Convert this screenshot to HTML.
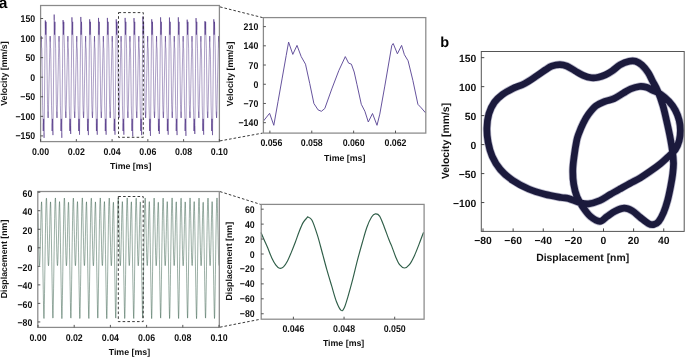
<!DOCTYPE html>
<html><head><meta charset="utf-8"><style>
html,body{margin:0;padding:0;background:#fff;}
body{width:685px;height:357px;overflow:hidden;}
svg{display:block;will-change:transform;}
</style></head><body>
<svg width="685" height="357" viewBox="0 0 685 357">
<rect width="685" height="357" fill="#fff"/>
<clipPath id="c1"><rect x="40.6" y="0" width="178.8" height="142"/></clipPath>
<polyline points="40.14,83.83 40.74,57.74 41.29,36.11 41.57,47.05 41.81,48.62 42.05,59.74 42.29,77.84 42.65,105.78 42.96,115.76 43.25,131.01 43.60,118.90 44.08,137.85 44.44,102.07 44.79,68.43 45.13,36.22 45.34,20.46 45.69,34.65 46.05,21.82 46.41,37.78 46.77,48.62 47.13,75.85 47.49,104.64 47.84,113.76 48.13,117.90 48.41,111.77 49.01,83.83 49.60,57.74 50.16,36.11 50.44,47.05 50.68,48.62 50.91,59.74 51.15,77.84 51.52,105.78 51.82,115.76 52.11,131.01 52.47,118.90 52.94,135.11 53.30,102.07 53.66,68.43 54.00,36.22 54.20,14.59 54.56,34.65 54.92,21.82 55.27,37.78 55.64,48.62 56.00,75.85 56.35,104.64 56.71,113.76 56.99,117.90 57.28,111.77 57.88,83.83 58.47,57.74 59.02,36.11 59.30,47.05 59.54,48.62 59.78,59.74 60.02,77.84 60.38,105.78 60.69,115.76 60.98,131.01 61.33,118.90 61.81,137.85 62.17,102.07 62.52,68.43 62.86,36.22 63.07,20.07 63.43,34.65 63.78,21.82 64.14,37.78 64.51,48.62 64.86,75.85 65.22,104.64 65.58,113.76 65.86,117.90 66.15,111.77 66.74,83.83 67.34,57.74 67.89,36.11 68.17,47.05 68.41,48.62 68.65,59.74 68.88,77.84 69.25,105.78 69.55,115.76 69.84,131.01 70.20,118.90 70.68,133.94 71.03,102.07 71.39,68.43 71.73,36.22 71.93,17.33 72.29,34.65 72.65,21.82 73.01,37.78 73.37,48.62 73.73,75.85 74.09,104.64 74.44,113.76 74.72,117.90 75.01,111.77 75.61,83.83 76.20,57.74 76.75,36.11 77.04,47.05 77.27,48.62 77.51,59.74 77.75,77.84 78.11,105.78 78.42,115.76 78.71,131.01 79.07,118.90 79.54,134.72 79.90,102.07 80.26,68.43 80.60,36.22 80.80,16.94 81.16,34.65 81.51,21.82 81.87,37.78 82.24,48.62 82.59,75.85 82.95,104.64 83.31,113.76 83.59,117.90 83.88,111.77 84.47,83.83 85.07,57.74 85.62,36.11 85.90,47.05 86.14,48.62 86.38,59.74 86.62,77.84 86.98,105.78 87.29,115.76 87.58,131.01 87.93,118.90 88.41,135.11 88.77,102.07 89.12,68.43 89.46,36.22 89.67,19.29 90.02,34.65 90.38,21.82 90.74,37.78 91.10,48.62 91.46,75.85 91.82,104.64 92.17,113.76 92.46,117.90 92.74,111.77 93.34,83.83 93.93,57.74 94.49,36.11 94.77,47.05 95.01,48.62 95.24,59.74 95.48,77.84 95.85,105.78 96.15,115.76 96.44,131.01 96.80,118.90 97.27,134.72 97.63,102.07 97.99,68.43 98.33,36.22 98.53,17.92 98.89,34.65 99.25,21.82 99.60,37.78 99.97,48.62 100.33,75.85 100.68,104.64 101.04,113.76 101.32,117.90 101.61,111.77 102.21,83.83 102.80,57.74 103.35,36.11 103.63,47.05 103.87,48.62 104.11,59.74 104.35,77.84 104.71,105.78 105.02,115.76 105.31,131.01 105.66,118.90 106.14,134.72 106.50,102.07 106.85,68.43 107.19,36.22 107.40,17.92 107.76,34.65 108.11,21.82 108.47,37.78 108.84,48.62 109.19,75.85 109.55,104.64 109.91,113.76 110.19,117.90 110.48,111.77 111.07,83.83 111.67,57.74 112.22,36.11 112.50,47.05 112.74,48.62 112.98,59.74 113.21,77.84 113.58,105.78 113.88,115.76 114.17,131.01 114.53,118.90 115.01,134.72 115.36,102.07 115.72,68.43 116.06,36.22 116.26,19.29 116.62,34.65 116.98,21.82 117.34,37.78 117.70,48.62 118.06,75.85 118.42,104.64 118.77,113.76 119.05,117.90 119.34,111.77 119.94,83.83 120.53,57.74 121.08,36.11 121.37,47.05 121.60,48.62 121.84,59.74 122.08,77.84 122.44,105.78 122.75,115.76 123.04,131.01 123.40,118.90 123.87,134.72 124.23,102.07 124.59,68.43 124.93,36.22 125.13,17.92 125.49,34.65 125.84,21.82 126.20,37.78 126.57,48.62 126.92,75.85 127.28,104.64 127.64,113.76 127.92,117.90 128.21,111.77 128.80,83.83 129.40,57.74 129.95,36.11 130.23,47.05 130.47,48.62 130.71,59.74 130.95,77.84 131.31,105.78 131.62,115.76 131.91,131.01 132.26,118.90 132.74,136.48 133.10,102.07 133.45,68.43 133.79,36.22 134.00,18.11 134.35,34.65 134.71,21.82 135.07,37.78 135.43,48.62 135.79,75.85 136.15,104.64 136.50,113.76 136.79,117.90 137.07,111.77 137.67,83.83 138.26,57.74 138.82,36.11 139.10,47.05 139.34,48.62 139.57,59.74 139.81,77.84 140.18,105.78 140.48,115.76 140.77,131.01 141.13,118.90 141.60,135.11 141.96,102.07 142.32,68.43 142.66,36.22 142.86,16.55 143.22,34.65 143.58,21.82 143.93,37.78 144.30,48.62 144.66,75.85 145.01,104.64 145.37,113.76 145.65,117.90 145.94,111.77 146.54,83.83 147.13,57.74 147.68,36.11 147.96,47.05 148.20,48.62 148.44,59.74 148.68,77.84 149.04,105.78 149.35,115.76 149.64,131.01 149.99,118.90 150.47,135.90 150.83,102.07 151.18,68.43 151.52,36.22 151.73,19.29 152.09,34.65 152.44,21.82 152.80,37.78 153.17,48.62 153.52,75.85 153.88,104.64 154.24,113.76 154.52,117.90 154.81,111.77 155.40,83.83 156.00,57.74 156.55,36.11 156.83,47.05 157.07,48.62 157.31,59.74 157.54,77.84 157.91,105.78 158.21,115.76 158.50,131.01 158.86,118.90 159.34,133.94 159.69,102.07 160.05,68.43 160.39,36.22 160.59,17.33 160.95,34.65 161.31,21.82 161.67,37.78 162.03,48.62 162.39,75.85 162.75,104.64 163.10,113.76 163.38,117.90 163.67,111.77 164.27,83.83 164.86,57.74 165.41,36.11 165.70,47.05 165.93,48.62 166.17,59.74 166.41,77.84 166.77,105.78 167.08,115.76 167.37,131.01 167.73,118.90 168.20,134.72 168.56,102.07 168.92,68.43 169.26,36.22 169.46,17.53 169.82,34.65 170.17,21.82 170.53,37.78 170.90,48.62 171.25,75.85 171.61,104.64 171.97,113.76 172.25,117.90 172.54,111.77 173.13,83.83 173.73,57.74 174.28,36.11 174.56,47.05 174.80,48.62 175.04,59.74 175.28,77.84 175.64,105.78 175.95,115.76 176.24,131.01 176.59,118.90 177.07,135.11 177.43,102.07 177.78,68.43 178.12,36.22 178.33,17.33 178.68,34.65 179.04,21.82 179.40,37.78 179.76,48.62 180.12,75.85 180.48,104.64 180.83,113.76 181.12,117.90 181.40,111.77 182.00,83.83 182.59,57.74 183.15,36.11 183.43,47.05 183.67,48.62 183.90,59.74 184.14,77.84 184.51,105.78 184.81,115.76 185.10,131.01 185.46,118.90 185.93,135.90 186.29,102.07 186.65,68.43 186.99,36.22 187.19,19.68 187.55,34.65 187.91,21.82 188.26,37.78 188.63,48.62 188.99,75.85 189.34,104.64 189.70,113.76 189.98,117.90 190.27,111.77 190.87,83.83 191.46,57.74 192.01,36.11 192.29,47.05 192.53,48.62 192.77,59.74 193.01,77.84 193.37,105.78 193.68,115.76 193.97,131.01 194.32,118.90 194.80,133.94 195.16,102.07 195.51,68.43 195.85,36.22 196.06,18.11 196.42,34.65 196.77,21.82 197.13,37.78 197.50,48.62 197.85,75.85 198.21,104.64 198.57,113.76 198.85,117.90 199.14,111.77 199.73,83.83 200.33,57.74 200.88,36.11 201.16,47.05 201.40,48.62 201.64,59.74 201.87,77.84 202.24,105.78 202.54,115.76 202.83,131.01 203.19,118.90 203.67,134.72 204.02,102.07 204.38,68.43 204.72,36.22 204.92,21.24 205.28,34.65 205.64,21.82 206.00,37.78 206.36,48.62 206.72,75.85 207.08,104.64 207.43,113.76 207.71,117.90 208.00,111.77 208.60,83.83 209.19,57.74 209.74,36.11 210.03,47.05 210.26,48.62 210.50,59.74 210.74,77.84 211.10,105.78 211.41,115.76 211.70,131.01 212.06,118.90 212.53,135.11 212.89,102.07 213.25,68.43 213.59,36.22 213.79,19.29 214.15,34.65 214.50,21.82 214.86,37.78 215.23,48.62 215.58,75.85 215.94,104.64 216.30,113.76 216.58,117.90 216.87,111.77 217.46,83.83 218.06,57.74 218.61,36.11 218.89,47.05 219.13,48.62 219.37,59.74 219.61,77.84" fill="none" stroke="#3c1c78" stroke-width="0.42" stroke-linejoin="round" clip-path="url(#c1)"/>
<path d="M40.14,83.83 L40.29,77.31M41.15,41.52 L41.29,36.11 L41.36,38.85 L41.43,41.58M43.10,123.39 L43.17,127.20 L43.25,131.01 L43.34,127.98 L43.42,124.95 L43.51,121.93 L43.60,118.90 L43.72,123.63M43.96,133.11 L44.08,137.85M45.23,28.34 L45.29,24.40 L45.34,20.46 L45.43,24.01 L45.52,27.56 L45.60,31.10 L45.69,34.65 L45.78,31.44 L45.87,28.23 L45.96,25.03 L46.05,21.82 L46.14,25.81 L46.23,29.80M47.76,111.48 L47.84,113.76 L47.91,114.80 L47.98,115.83 L48.05,116.86 L48.13,117.90 L48.20,116.36 L48.27,114.83 L48.34,113.30 L48.41,111.77M50.02,41.52 L50.16,36.11 L50.23,38.85 L50.30,41.58M51.97,123.39 L52.04,127.20 L52.11,131.01 L52.20,127.98 L52.29,124.95 L52.38,121.93 L52.47,118.90 L52.59,122.95M52.83,131.06 L52.94,135.11M54.15,20.00 L54.20,14.59 L54.29,19.61M54.47,29.63 L54.56,34.65 L54.65,31.44 L54.74,28.23 L54.83,25.03 L54.92,21.82 L55.01,25.81 L55.10,29.80M56.62,111.48 L56.71,113.76 L56.78,114.80 L56.85,115.83 L56.92,116.86 L56.99,117.90 L57.06,116.36 L57.14,114.83 L57.21,113.30 L57.28,111.77M58.88,41.52 L59.02,36.11 L59.09,38.85 L59.16,41.58M60.83,123.39 L60.91,127.20 L60.98,131.01 L61.07,127.98 L61.16,124.95 L61.25,121.93 L61.33,118.90 L61.45,123.63M61.69,133.11 L61.81,137.85M63.02,24.11 L63.07,20.07 L63.16,23.71 L63.25,27.36 L63.34,31.00 L63.43,34.65 L63.52,31.44 L63.60,28.23 L63.69,25.03 L63.78,21.82 L63.87,25.81 L63.96,29.80M65.49,111.48 L65.58,113.76 L65.65,114.80 L65.72,115.83 L65.79,116.86 L65.86,117.90 L65.93,116.36 L66.00,114.83 L66.07,113.30 L66.15,111.77M67.75,41.52 L67.89,36.11 L67.96,38.85 L68.03,41.58M69.70,123.39 L69.77,127.20 L69.84,131.01 L69.93,127.98 L70.02,124.95 L70.11,121.93 L70.20,118.90 L70.32,122.66 L70.44,126.42 L70.56,130.18 L70.68,133.94 L70.77,125.97M71.88,22.05 L71.93,17.33 L72.02,21.66M72.20,30.32 L72.29,34.65 L72.38,31.44 L72.47,28.23 L72.56,25.03 L72.65,21.82 L72.74,25.81 L72.83,29.80M74.35,111.48 L74.44,113.76 L74.51,114.80 L74.58,115.83 L74.65,116.86 L74.72,117.90 L74.80,116.36 L74.87,114.83 L74.94,113.30 L75.01,111.77M76.62,41.52 L76.75,36.11 L76.82,38.85 L76.89,41.58M78.57,123.39 L78.64,127.20 L78.71,131.01 L78.80,127.98 L78.89,124.95 L78.98,121.93 L79.07,118.90 L79.19,122.85 L79.30,126.81 L79.42,130.76 L79.54,134.72M80.75,21.76 L80.80,16.94 L80.89,21.37M81.07,30.22 L81.16,34.65 L81.25,31.44 L81.34,28.23 L81.43,25.03 L81.51,21.82 L81.60,25.81 L81.69,29.80M83.22,111.48 L83.31,113.76 L83.38,114.80 L83.45,115.83 L83.52,116.86 L83.59,117.90 L83.66,116.36 L83.73,114.83 L83.81,113.30 L83.88,111.77M85.48,41.52 L85.62,36.11 L85.69,38.85 L85.76,41.58M87.43,123.39 L87.50,127.20 L87.58,131.01 L87.67,127.98 L87.75,124.95 L87.84,121.93 L87.93,118.90 L88.05,122.95M88.29,131.06 L88.41,135.11M89.62,23.52 L89.67,19.29 L89.76,23.13 L89.85,26.97 L89.93,30.81 L90.02,34.65 L90.11,31.44 L90.20,28.23 L90.29,25.03 L90.38,21.82 L90.47,25.81 L90.56,29.80M92.09,111.48 L92.17,113.76 L92.24,114.80 L92.31,115.83 L92.38,116.86 L92.46,117.90 L92.53,116.36 L92.60,114.83 L92.67,113.30 L92.74,111.77M94.35,41.52 L94.49,36.11 L94.56,38.85 L94.63,41.58M96.30,123.39 L96.37,127.20 L96.44,131.01 L96.53,127.98 L96.62,124.95 L96.71,121.93 L96.80,118.90 L96.92,122.85 L97.04,126.81 L97.16,130.76 L97.27,134.72M98.48,22.49 L98.53,17.92 L98.62,22.10M98.80,30.47 L98.89,34.65 L98.98,31.44 L99.07,28.23 L99.16,25.03 L99.25,21.82 L99.34,25.81 L99.43,29.80M100.95,111.48 L101.04,113.76 L101.11,114.80 L101.18,115.83 L101.25,116.86 L101.32,117.90 L101.39,116.36 L101.47,114.83 L101.54,113.30 L101.61,111.77M103.21,41.52 L103.35,36.11 L103.42,38.85 L103.49,41.58M105.16,123.39 L105.24,127.20 L105.31,131.01 L105.40,127.98 L105.49,124.95 L105.58,121.93 L105.66,118.90 L105.78,122.85 L105.90,126.81 L106.02,130.76 L106.14,134.72M107.35,22.49 L107.40,17.92 L107.49,22.10M107.67,30.47 L107.76,34.65 L107.85,31.44 L107.93,28.23 L108.02,25.03 L108.11,21.82 L108.20,25.81 L108.29,29.80M109.82,111.48 L109.91,113.76 L109.98,114.80 L110.05,115.83 L110.12,116.86 L110.19,117.90 L110.26,116.36 L110.33,114.83 L110.40,113.30 L110.48,111.77M112.08,41.52 L112.22,36.11 L112.29,38.85 L112.36,41.58M114.03,123.39 L114.10,127.20 L114.17,131.01 L114.26,127.98 L114.35,124.95 L114.44,121.93 L114.53,118.90 L114.65,122.85 L114.77,126.81 L114.89,130.76 L115.01,134.72M116.21,23.52 L116.26,19.29 L116.35,23.13 L116.44,26.97 L116.53,30.81 L116.62,34.65 L116.71,31.44 L116.80,28.23 L116.89,25.03 L116.98,21.82 L117.07,25.81 L117.16,29.80M118.68,111.48 L118.77,113.76 L118.84,114.80 L118.91,115.83 L118.98,116.86 L119.05,117.90 L119.13,116.36 L119.20,114.83 L119.27,113.30 L119.34,111.77M120.95,41.52 L121.08,36.11 L121.15,38.85 L121.22,41.58M122.90,123.39 L122.97,127.20 L123.04,131.01 L123.13,127.98 L123.22,124.95 L123.31,121.93 L123.40,118.90 L123.52,122.85 L123.63,126.81 L123.75,130.76 L123.87,134.72M125.08,22.49 L125.13,17.92 L125.22,22.10M125.40,30.47 L125.49,34.65 L125.58,31.44 L125.67,28.23 L125.76,25.03 L125.84,21.82 L125.93,25.81 L126.02,29.80M127.55,111.48 L127.64,113.76 L127.71,114.80 L127.78,115.83 L127.85,116.86 L127.92,117.90 L127.99,116.36 L128.06,114.83 L128.14,113.30 L128.21,111.77M129.81,41.52 L129.95,36.11 L130.02,38.85 L130.09,41.58M131.76,123.39 L131.83,127.20 L131.91,131.01 L132.00,127.98 L132.08,124.95 L132.17,121.93 L132.26,118.90 L132.38,123.29M132.62,132.09 L132.74,136.48M133.95,22.64 L134.00,18.11 L134.09,22.25M134.26,30.52 L134.35,34.65 L134.44,31.44 L134.53,28.23 L134.62,25.03 L134.71,21.82 L134.80,25.81 L134.89,29.80M136.42,111.48 L136.50,113.76 L136.57,114.80 L136.64,115.83 L136.71,116.86 L136.79,117.90 L136.86,116.36 L136.93,114.83 L137.00,113.30 L137.07,111.77M138.68,41.52 L138.82,36.11 L138.89,38.85 L138.96,41.58M140.63,123.39 L140.70,127.20 L140.77,131.01 L140.86,127.98 L140.95,124.95 L141.04,121.93 L141.13,118.90 L141.25,122.95M141.49,131.06 L141.60,135.11M142.81,21.47 L142.86,16.55 L142.95,21.07M143.13,30.12 L143.22,34.65 L143.31,31.44 L143.40,28.23 L143.49,25.03 L143.58,21.82 L143.67,25.81 L143.76,29.80M145.28,111.48 L145.37,113.76 L145.44,114.80 L145.51,115.83 L145.58,116.86 L145.65,117.90 L145.72,116.36 L145.80,114.83 L145.87,113.30 L145.94,111.77M147.54,41.52 L147.68,36.11 L147.75,38.85 L147.82,41.58M149.49,123.39 L149.57,127.20 L149.64,131.01 L149.73,127.98 L149.82,124.95 L149.91,121.93 L149.99,118.90 L150.11,123.15M150.35,131.65 L150.47,135.90M151.68,23.52 L151.73,19.29 L151.82,23.13 L151.91,26.97 L152.00,30.81 L152.09,34.65 L152.18,31.44 L152.26,28.23 L152.35,25.03 L152.44,21.82 L152.53,25.81 L152.62,29.80M154.15,111.48 L154.24,113.76 L154.31,114.80 L154.38,115.83 L154.45,116.86 L154.52,117.90 L154.59,116.36 L154.66,114.83 L154.73,113.30 L154.81,111.77M156.41,41.52 L156.55,36.11 L156.62,38.85 L156.69,41.58M158.36,123.39 L158.43,127.20 L158.50,131.01 L158.59,127.98 L158.68,124.95 L158.77,121.93 L158.86,118.90 L158.98,122.66 L159.10,126.42 L159.22,130.18 L159.34,133.94 L159.43,125.97M160.54,22.05 L160.59,17.33 L160.68,21.66M160.86,30.32 L160.95,34.65 L161.04,31.44 L161.13,28.23 L161.22,25.03 L161.31,21.82 L161.40,25.81 L161.49,29.80M163.01,111.48 L163.10,113.76 L163.17,114.80 L163.24,115.83 L163.31,116.86 L163.38,117.90 L163.46,116.36 L163.53,114.83 L163.60,113.30 L163.67,111.77M165.28,41.52 L165.41,36.11 L165.48,38.85 L165.55,41.58M167.23,123.39 L167.30,127.20 L167.37,131.01 L167.46,127.98 L167.55,124.95 L167.64,121.93 L167.73,118.90 L167.85,122.85 L167.96,126.81 L168.08,130.76 L168.20,134.72M169.41,22.20 L169.46,17.53 L169.55,21.81M169.73,30.37 L169.82,34.65 L169.91,31.44 L170.00,28.23 L170.09,25.03 L170.17,21.82 L170.26,25.81 L170.35,29.80M171.88,111.48 L171.97,113.76 L172.04,114.80 L172.11,115.83 L172.18,116.86 L172.25,117.90 L172.32,116.36 L172.39,114.83 L172.47,113.30 L172.54,111.77M174.14,41.52 L174.28,36.11 L174.35,38.85 L174.42,41.58M176.09,123.39 L176.16,127.20 L176.24,131.01 L176.33,127.98 L176.41,124.95 L176.50,121.93 L176.59,118.90 L176.71,122.95M176.95,131.06 L177.07,135.11M178.28,22.05 L178.33,17.33 L178.42,21.66M178.59,30.32 L178.68,34.65 L178.77,31.44 L178.86,28.23 L178.95,25.03 L179.04,21.82 L179.13,25.81 L179.22,29.80M180.75,111.48 L180.83,113.76 L180.90,114.80 L180.97,115.83 L181.04,116.86 L181.12,117.90 L181.19,116.36 L181.26,114.83 L181.33,113.30 L181.40,111.77M183.01,41.52 L183.15,36.11 L183.22,38.85 L183.29,41.58M184.96,123.39 L185.03,127.20 L185.10,131.01 L185.19,127.98 L185.28,124.95 L185.37,121.93 L185.46,118.90 L185.58,123.15M185.82,131.65 L185.93,135.90M187.14,23.81 L187.19,19.68 L187.28,23.42 L187.37,27.16 L187.46,30.91 L187.55,34.65 L187.64,31.44 L187.73,28.23 L187.82,25.03 L187.91,21.82 L188.00,25.81 L188.09,29.80M189.61,111.48 L189.70,113.76 L189.77,114.80 L189.84,115.83 L189.91,116.86 L189.98,117.90 L190.05,116.36 L190.13,114.83 L190.20,113.30 L190.27,111.77M191.87,41.52 L192.01,36.11 L192.08,38.85 L192.15,41.58M193.82,123.39 L193.90,127.20 L193.97,131.01 L194.06,127.98 L194.15,124.95 L194.24,121.93 L194.32,118.90 L194.44,122.66 L194.56,126.42 L194.68,130.18 L194.80,133.94 L194.89,125.97M196.01,22.64 L196.06,18.11 L196.15,22.25M196.33,30.52 L196.42,34.65 L196.51,31.44 L196.59,28.23 L196.68,25.03 L196.77,21.82 L196.86,25.81 L196.95,29.80M198.48,111.48 L198.57,113.76 L198.64,114.80 L198.71,115.83 L198.78,116.86 L198.85,117.90 L198.92,116.36 L198.99,114.83 L199.06,113.30 L199.14,111.77M200.74,41.52 L200.88,36.11 L200.95,38.85 L201.02,41.58M202.69,123.39 L202.76,127.20 L202.83,131.01 L202.92,127.98 L203.01,124.95 L203.10,121.93 L203.19,118.90 L203.31,122.85 L203.43,126.81 L203.55,130.76 L203.67,134.72M204.82,28.73 L204.87,24.99 L204.92,21.24 L205.01,24.60 L205.10,27.95 L205.19,31.30 L205.28,34.65 L205.37,31.44 L205.46,28.23 L205.55,25.03 L205.64,21.82 L205.73,25.81 L205.82,29.80M207.34,111.48 L207.43,113.76 L207.50,114.80 L207.57,115.83 L207.64,116.86 L207.71,117.90 L207.79,116.36 L207.86,114.83 L207.93,113.30 L208.00,111.77M209.61,41.52 L209.74,36.11 L209.81,38.85 L209.88,41.58M211.56,123.39 L211.63,127.20 L211.70,131.01 L211.79,127.98 L211.88,124.95 L211.97,121.93 L212.06,118.90 L212.18,122.95M212.41,131.06 L212.53,135.11M213.74,23.52 L213.79,19.29 L213.88,23.13 L213.97,26.97 L214.06,30.81 L214.15,34.65 L214.24,31.44 L214.33,28.23 L214.42,25.03 L214.50,21.82 L214.59,25.81 L214.68,29.80M216.21,111.48 L216.30,113.76 L216.37,114.80 L216.44,115.83 L216.51,116.86 L216.58,117.90 L216.65,116.36 L216.72,114.83 L216.80,113.30 L216.87,111.77M218.47,41.52 L218.61,36.11 L218.68,38.85 L218.75,41.58" fill="none" stroke="#3c1c78" stroke-width="0.3" stroke-opacity="0.5" clip-path="url(#c1)"/>
<rect x="40.60" y="5.50" width="178.80" height="136.10" fill="none" stroke="#8a8a8a" stroke-width="1.25"/>
<line x1="40.60" y1="135.90" x2="43.10" y2="135.90" stroke="#444" stroke-width="0.9"/>
<text x="35.20" y="139.44" font-size="9.856000000000002" text-anchor="end" transform="translate(35.20 139.44) scale(0.8929 1) translate(-35.20 -139.44)" font-family="Liberation Sans" font-weight="bold" text-rendering="geometricPrecision" fill="#111">−150</text>
<line x1="40.60" y1="116.33" x2="43.10" y2="116.33" stroke="#444" stroke-width="0.9"/>
<text x="35.20" y="119.88" font-size="9.856000000000002" text-anchor="end" transform="translate(35.20 119.88) scale(0.8929 1) translate(-35.20 -119.88)" font-family="Liberation Sans" font-weight="bold" text-rendering="geometricPrecision" fill="#111">−100</text>
<line x1="40.60" y1="96.77" x2="43.10" y2="96.77" stroke="#444" stroke-width="0.9"/>
<text x="35.20" y="100.31" font-size="9.856000000000002" text-anchor="end" transform="translate(35.20 100.31) scale(0.8929 1) translate(-35.20 -100.31)" font-family="Liberation Sans" font-weight="bold" text-rendering="geometricPrecision" fill="#111">−50</text>
<line x1="40.60" y1="77.20" x2="43.10" y2="77.20" stroke="#444" stroke-width="0.9"/>
<text x="35.20" y="80.75" font-size="9.856000000000002" text-anchor="end" transform="translate(35.20 80.75) scale(0.8929 1) translate(-35.20 -80.75)" font-family="Liberation Sans" font-weight="bold" text-rendering="geometricPrecision" fill="#111">0</text>
<line x1="40.60" y1="57.64" x2="43.10" y2="57.64" stroke="#444" stroke-width="0.9"/>
<text x="35.20" y="61.18" font-size="9.856000000000002" text-anchor="end" transform="translate(35.20 61.18) scale(0.8929 1) translate(-35.20 -61.18)" font-family="Liberation Sans" font-weight="bold" text-rendering="geometricPrecision" fill="#111">50</text>
<line x1="40.60" y1="38.07" x2="43.10" y2="38.07" stroke="#444" stroke-width="0.9"/>
<text x="35.20" y="41.62" font-size="9.856000000000002" text-anchor="end" transform="translate(35.20 41.62) scale(0.8929 1) translate(-35.20 -41.62)" font-family="Liberation Sans" font-weight="bold" text-rendering="geometricPrecision" fill="#111">100</text>
<line x1="40.60" y1="18.51" x2="43.10" y2="18.51" stroke="#444" stroke-width="0.9"/>
<text x="35.20" y="22.05" font-size="9.856000000000002" text-anchor="end" transform="translate(35.20 22.05) scale(0.8929 1) translate(-35.20 -22.05)" font-family="Liberation Sans" font-weight="bold" text-rendering="geometricPrecision" fill="#111">150</text>
<line x1="40.60" y1="141.60" x2="40.60" y2="139.10" stroke="#444" stroke-width="0.9"/>
<text x="40.60" y="154.60" font-size="9.856000000000002" text-anchor="middle" transform="translate(40.60 154.60) scale(0.8929 1) translate(-40.60 -154.60)" font-family="Liberation Sans" font-weight="bold" text-rendering="geometricPrecision" fill="#111">0.00</text>
<line x1="76.35" y1="141.60" x2="76.35" y2="139.10" stroke="#444" stroke-width="0.9"/>
<text x="76.35" y="154.60" font-size="9.856000000000002" text-anchor="middle" transform="translate(76.35 154.60) scale(0.8929 1) translate(-76.35 -154.60)" font-family="Liberation Sans" font-weight="bold" text-rendering="geometricPrecision" fill="#111">0.02</text>
<line x1="112.10" y1="141.60" x2="112.10" y2="139.10" stroke="#444" stroke-width="0.9"/>
<text x="112.10" y="154.60" font-size="9.856000000000002" text-anchor="middle" transform="translate(112.10 154.60) scale(0.8929 1) translate(-112.10 -154.60)" font-family="Liberation Sans" font-weight="bold" text-rendering="geometricPrecision" fill="#111">0.04</text>
<line x1="147.85" y1="141.60" x2="147.85" y2="139.10" stroke="#444" stroke-width="0.9"/>
<text x="147.85" y="154.60" font-size="9.856000000000002" text-anchor="middle" transform="translate(147.85 154.60) scale(0.8929 1) translate(-147.85 -154.60)" font-family="Liberation Sans" font-weight="bold" text-rendering="geometricPrecision" fill="#111">0.06</text>
<line x1="183.60" y1="141.60" x2="183.60" y2="139.10" stroke="#444" stroke-width="0.9"/>
<text x="183.60" y="154.60" font-size="9.856000000000002" text-anchor="middle" transform="translate(183.60 154.60) scale(0.8929 1) translate(-183.60 -154.60)" font-family="Liberation Sans" font-weight="bold" text-rendering="geometricPrecision" fill="#111">0.08</text>
<line x1="219.35" y1="141.60" x2="219.35" y2="139.10" stroke="#444" stroke-width="0.9"/>
<text x="219.35" y="154.60" font-size="9.856000000000002" text-anchor="middle" transform="translate(219.35 154.60) scale(0.8929 1) translate(-219.35 -154.60)" font-family="Liberation Sans" font-weight="bold" text-rendering="geometricPrecision" fill="#111">0.10</text>
<text x="130.70" y="168.80" font-size="8.8" text-anchor="middle" font-family="Liberation Sans" font-weight="bold" text-rendering="geometricPrecision" fill="#111">Time [ms]</text>
<text x="7.40" y="73.60" font-size="8.8" text-anchor="middle" transform="rotate(-90 7.40 73.60)" font-family="Liberation Sans" font-weight="bold" text-rendering="geometricPrecision" fill="#111">Velocity [mm/s]</text>
<rect x="118.5" y="12.6" width="24.8" height="124.7" fill="none" stroke="#222" stroke-width="0.9" stroke-dasharray="2.6,2.2"/>
<polyline points="263.40,121.10 269.60,113.30 273.80,125.30 278.00,101.70 282.20,78.10 286.20,55.50 288.60,42.10 292.80,54.40 297.00,45.40 301.20,56.60 305.50,64.20 309.70,83.30 313.90,103.50 318.10,109.90 321.40,111.30 324.80,108.50 331.80,88.90 338.80,70.60 345.30,56.60 348.60,63.10 351.40,64.20 354.20,72.00 357.00,84.70 361.30,104.30 364.90,111.30 368.30,122.00 372.50,113.50 377.00,125.30 379.80,114.10 384.80,86.10 391.80,45.40 393.20,43.50 397.40,53.80 401.60,45.40 404.40,54.70 408.10,60.80 412.90,80.50 417.90,104.30 421.30,107.90 424.90,112.10 425.80,113.00" fill="none" stroke="#5e4a98" stroke-width="0.95" stroke-linejoin="round" />
<rect x="263.40" y="17.60" width="162.40" height="115.50" fill="none" stroke="#8a8a8a" stroke-width="1.25"/>
<line x1="263.40" y1="122.68" x2="265.90" y2="122.68" stroke="#444" stroke-width="0.9"/>
<text x="258.30" y="126.23" font-size="9.856000000000002" text-anchor="end" transform="translate(258.30 126.23) scale(0.8929 1) translate(-258.30 -126.23)" font-family="Liberation Sans" font-weight="bold" text-rendering="geometricPrecision" fill="#111">−140</text>
<line x1="263.40" y1="103.47" x2="265.90" y2="103.47" stroke="#444" stroke-width="0.9"/>
<text x="258.30" y="107.01" font-size="9.856000000000002" text-anchor="end" transform="translate(258.30 107.01) scale(0.8929 1) translate(-258.30 -107.01)" font-family="Liberation Sans" font-weight="bold" text-rendering="geometricPrecision" fill="#111">−70</text>
<line x1="263.40" y1="84.25" x2="265.90" y2="84.25" stroke="#444" stroke-width="0.9"/>
<text x="258.30" y="87.80" font-size="9.856000000000002" text-anchor="end" transform="translate(258.30 87.80) scale(0.8929 1) translate(-258.30 -87.80)" font-family="Liberation Sans" font-weight="bold" text-rendering="geometricPrecision" fill="#111">0</text>
<line x1="263.40" y1="65.03" x2="265.90" y2="65.03" stroke="#444" stroke-width="0.9"/>
<text x="258.30" y="68.58" font-size="9.856000000000002" text-anchor="end" transform="translate(258.30 68.58) scale(0.8929 1) translate(-258.30 -68.58)" font-family="Liberation Sans" font-weight="bold" text-rendering="geometricPrecision" fill="#111">70</text>
<line x1="263.40" y1="45.82" x2="265.90" y2="45.82" stroke="#444" stroke-width="0.9"/>
<text x="258.30" y="49.37" font-size="9.856000000000002" text-anchor="end" transform="translate(258.30 49.37) scale(0.8929 1) translate(-258.30 -49.37)" font-family="Liberation Sans" font-weight="bold" text-rendering="geometricPrecision" fill="#111">140</text>
<line x1="263.40" y1="26.60" x2="265.90" y2="26.60" stroke="#444" stroke-width="0.9"/>
<text x="258.30" y="30.15" font-size="9.856000000000002" text-anchor="end" transform="translate(258.30 30.15) scale(0.8929 1) translate(-258.30 -30.15)" font-family="Liberation Sans" font-weight="bold" text-rendering="geometricPrecision" fill="#111">210</text>
<line x1="269.90" y1="133.10" x2="269.90" y2="130.60" stroke="#444" stroke-width="0.9"/>
<text x="271.40" y="146.00" font-size="9.856000000000002" text-anchor="middle" transform="translate(271.40 146.00) scale(0.8929 1) translate(-271.40 -146.00)" font-family="Liberation Sans" font-weight="bold" text-rendering="geometricPrecision" fill="#111">0.056</text>
<line x1="311.77" y1="133.10" x2="311.77" y2="130.60" stroke="#444" stroke-width="0.9"/>
<text x="311.77" y="146.00" font-size="9.856000000000002" text-anchor="middle" transform="translate(311.77 146.00) scale(0.8929 1) translate(-311.77 -146.00)" font-family="Liberation Sans" font-weight="bold" text-rendering="geometricPrecision" fill="#111">0.058</text>
<line x1="353.64" y1="133.10" x2="353.64" y2="130.60" stroke="#444" stroke-width="0.9"/>
<text x="353.64" y="146.00" font-size="9.856000000000002" text-anchor="middle" transform="translate(353.64 146.00) scale(0.8929 1) translate(-353.64 -146.00)" font-family="Liberation Sans" font-weight="bold" text-rendering="geometricPrecision" fill="#111">0.060</text>
<line x1="395.51" y1="133.10" x2="395.51" y2="130.60" stroke="#444" stroke-width="0.9"/>
<text x="395.51" y="146.00" font-size="9.856000000000002" text-anchor="middle" transform="translate(395.51 146.00) scale(0.8929 1) translate(-395.51 -146.00)" font-family="Liberation Sans" font-weight="bold" text-rendering="geometricPrecision" fill="#111">0.062</text>
<text x="344.75" y="161.40" font-size="8.8" text-anchor="middle" font-family="Liberation Sans" font-weight="bold" text-rendering="geometricPrecision" fill="#111">Time [ms]</text>
<text x="232.90" y="73.90" font-size="8.8" text-anchor="middle" transform="rotate(-90 232.90 73.90)" font-family="Liberation Sans" font-weight="bold" text-rendering="geometricPrecision" fill="#111">Velocity [mm/s]</text>
<line x1="220.00" y1="6.90" x2="262.60" y2="17.60" stroke="#222" stroke-width="0.9" stroke-dasharray="2.6,2.0"/>
<line x1="220.00" y1="140.90" x2="262.60" y2="133.10" stroke="#222" stroke-width="0.9" stroke-dasharray="2.6,2.0"/>
<polyline points="38.00,213.42 38.18,222.15 38.36,230.22 38.54,237.48 38.72,245.88 38.91,254.07 39.09,260.23 39.27,264.04 39.45,265.64 39.63,265.32 39.81,262.85 39.99,258.16 40.17,251.66 40.35,244.21 40.53,236.45 40.72,227.99 40.90,219.34 41.08,211.75 41.26,206.42 41.44,202.99 41.62,201.82 41.80,205.77 41.98,213.10 42.16,222.66 42.34,233.55 42.52,245.14 42.71,257.00 42.89,268.45 43.07,279.10 43.25,289.65 43.43,300.34 43.61,309.92 43.79,316.68 43.97,318.51 44.15,314.11 44.34,304.46 44.52,293.37 44.70,281.82 44.88,269.19 45.06,256.39 45.24,244.68 45.42,233.63 45.60,222.68 45.78,212.95 45.96,205.53 46.15,200.64 46.33,198.25 46.51,198.24 46.69,201.46 46.87,208.32 47.05,216.94 47.23,225.51 47.41,233.11 47.59,240.70 47.77,249.32 47.95,256.81 48.14,262.04 48.32,264.93 48.50,265.75 48.68,264.61 48.86,261.22 49.04,255.74 49.22,248.72 49.40,241.16 49.58,233.16 49.77,224.48 49.95,216.11 50.13,209.30 50.31,204.92 50.49,201.88 50.67,202.88 50.85,208.37 51.03,216.71 51.21,226.90 51.39,238.13 51.58,249.88 51.76,261.67 51.94,272.78 52.12,283.28 52.30,293.97 52.48,304.39 52.66,313.08 52.84,318.12 53.02,317.51 53.20,310.67 53.39,300.03 53.57,288.85 53.75,276.89 53.93,264.00 54.11,251.56 54.29,240.24 54.47,229.20 54.65,218.56 54.83,209.68 55.01,203.26 55.20,199.40 55.38,197.94 55.56,199.07 55.74,203.85 55.92,211.68 56.10,220.43 56.28,228.70 56.46,235.98 56.64,244.13 56.82,252.56 57.01,259.18 57.19,263.46 57.37,265.48 57.55,265.54 57.73,263.53 57.91,259.26 58.09,253.07 58.27,245.72 58.45,238.05 58.63,229.74 58.81,221.02 59.00,213.13 59.18,207.28 59.36,203.61 59.54,201.60 59.72,204.65 59.90,211.42 60.08,220.62 60.26,231.30 60.44,242.79 60.62,254.64 60.81,266.22 60.99,277.01 61.17,287.51 61.35,298.25 61.53,308.16 61.71,315.66 61.89,318.63 62.07,315.50 62.25,306.62 62.44,295.60 62.62,284.21 62.80,271.78 62.98,258.89 63.16,246.93 63.34,235.84 63.52,224.82 63.70,214.73 63.88,206.81 64.06,201.41 64.25,198.54 64.43,198.03 64.61,200.50 64.79,206.73 64.97,215.18 65.15,223.85 65.33,231.68 65.51,239.05 65.69,247.61 65.87,255.48 66.06,261.18 66.24,264.52 66.42,265.73 66.60,265.01 66.78,262.08 66.96,256.99 67.14,250.20 67.32,242.69 67.50,234.83 67.68,226.24 67.87,217.70 68.05,210.48 68.23,205.64 68.41,202.38 68.59,202.25 68.77,207.01 68.95,214.86 69.13,224.76 69.31,235.82 69.49,247.50 69.68,259.35 69.86,270.63 70.04,281.19 70.22,291.81 70.40,302.39 70.58,311.56 70.76,317.51 70.94,318.14 71.12,312.49 71.30,302.25 71.49,291.12 71.67,279.38 71.85,266.59 72.03,253.95 72.21,242.45 72.39,231.41 72.57,220.59 72.75,211.27 72.93,204.35 73.11,199.97 73.30,198.05 73.48,198.59 73.66,202.58 73.84,209.97 74.02,218.69 74.20,227.13 74.38,234.53 74.56,242.40 74.74,250.98 74.92,258.04 75.11,262.80 75.29,265.24 75.47,265.68 75.65,264.12 75.83,260.28 76.01,254.43 76.19,247.22 76.37,239.62 76.55,231.47 76.73,222.74 76.92,214.58 77.10,208.24 77.28,204.25 77.46,201.62 77.64,203.68 77.82,209.85 78.00,218.63 78.18,229.08 78.36,240.45 78.54,252.26 78.72,263.96 78.91,274.90 79.09,285.39 79.27,296.12 79.45,306.32 79.63,314.45 79.81,318.50 79.99,316.63 80.17,308.71 80.35,297.82 80.53,286.55 80.72,274.35 80.90,261.43 81.08,249.22 81.26,238.04 81.44,227.00 81.62,216.60 81.80,208.20 81.98,202.29 82.16,198.92 82.34,197.93 82.53,199.71 82.71,205.24 82.89,213.42 83.07,222.15 83.25,230.22 83.43,237.48 83.61,245.88 83.79,254.07 83.97,260.23 84.16,264.04 84.34,265.64 84.52,265.32 84.70,262.85 84.88,258.16 85.06,251.66 85.24,244.21 85.42,236.45 85.60,227.99 85.78,219.34 85.97,211.75 86.15,206.42 86.33,202.99 86.51,201.82 86.69,205.77 86.87,213.10 87.05,222.66 87.23,233.55 87.41,245.14 87.59,257.00 87.78,268.45 87.96,279.10 88.14,289.65 88.32,300.34 88.50,309.92 88.68,316.68 88.86,318.51 89.04,314.11 89.22,304.46 89.40,293.37 89.59,281.82 89.77,269.19 89.95,256.39 90.13,244.68 90.31,233.63 90.49,222.68 90.67,212.95 90.85,205.53 91.03,200.64 91.21,198.25 91.40,198.24 91.58,201.46 91.76,208.32 91.94,216.94 92.12,225.51 92.30,233.11 92.48,240.70 92.66,249.32 92.84,256.81 93.02,262.04 93.21,264.93 93.39,265.75 93.57,264.61 93.75,261.22 93.93,255.74 94.11,248.72 94.29,241.16 94.47,233.16 94.65,224.48 94.83,216.11 95.02,209.30 95.20,204.92 95.38,201.88 95.56,202.88 95.74,208.37 95.92,216.71 96.10,226.90 96.28,238.13 96.46,249.88 96.64,261.67 96.83,272.78 97.01,283.28 97.19,293.97 97.37,304.39 97.55,313.08 97.73,318.12 97.91,317.51 98.09,310.67 98.27,300.03 98.45,288.85 98.64,276.89 98.82,264.00 99.00,251.56 99.18,240.24 99.36,229.20 99.54,218.56 99.72,209.68 99.90,203.26 100.08,199.40 100.26,197.94 100.45,199.07 100.63,203.85 100.81,211.68 100.99,220.43 101.17,228.70 101.35,235.98 101.53,244.13 101.71,252.56 101.89,259.18 102.07,263.46 102.26,265.48 102.44,265.54 102.62,263.53 102.80,259.26 102.98,253.07 103.16,245.72 103.34,238.05 103.52,229.74 103.70,221.02 103.88,213.13 104.07,207.28 104.25,203.61 104.43,201.60 104.61,204.65 104.79,211.42 104.97,220.62 105.15,231.30 105.33,242.79 105.51,254.64 105.69,266.22 105.88,277.01 106.06,287.51 106.24,298.25 106.42,308.16 106.60,315.66 106.78,318.63 106.96,315.50 107.14,306.62 107.32,295.60 107.50,284.21 107.69,271.78 107.87,258.89 108.05,246.93 108.23,235.84 108.41,224.82 108.59,214.73 108.77,206.81 108.95,201.41 109.13,198.54 109.31,198.03 109.50,200.50 109.68,206.73 109.86,215.18 110.04,223.85 110.22,231.68 110.40,239.05 110.58,247.61 110.76,255.48 110.94,261.18 111.12,264.52 111.31,265.73 111.49,265.01 111.67,262.08 111.85,256.99 112.03,250.20 112.21,242.69 112.39,234.83 112.57,226.24 112.75,217.70 112.93,210.48 113.12,205.64 113.30,202.38 113.48,202.25 113.66,207.01 113.84,214.86 114.02,224.76 114.20,235.82 114.38,247.50 114.56,259.35 114.74,270.63 114.93,281.19 115.11,291.81 115.29,302.39 115.47,311.56 115.65,317.51 115.83,318.14 116.01,312.49 116.19,302.25 116.37,291.12 116.55,279.38 116.74,266.59 116.92,253.95 117.10,242.45 117.28,231.41 117.46,220.59 117.64,211.27 117.82,204.35 118.00,199.97 118.18,198.05 118.36,198.59 118.55,202.58 118.73,209.97 118.91,218.69 119.09,227.13 119.27,234.53 119.45,242.40 119.63,250.98 119.81,258.04 119.99,262.80 120.17,265.24 120.36,265.68 120.54,264.12 120.72,260.28 120.90,254.43 121.08,247.22 121.26,239.62 121.44,231.47 121.62,222.74 121.80,214.58 121.98,208.24 122.17,204.25 122.35,201.62 122.53,203.68 122.71,209.85 122.89,218.63 123.07,229.08 123.25,240.45 123.43,252.26 123.61,263.96 123.79,274.90 123.97,285.39 124.16,296.12 124.34,306.32 124.52,314.45 124.70,318.50 124.88,316.63 125.06,308.71 125.24,297.82 125.42,286.55 125.60,274.35 125.78,261.43 125.97,249.22 126.15,238.04 126.33,227.00 126.51,216.60 126.69,208.20 126.87,202.29 127.05,198.92 127.23,197.93 127.41,199.71 127.59,205.24 127.78,213.42 127.96,222.15 128.14,230.22 128.32,237.48 128.50,245.88 128.68,254.07 128.86,260.23 129.04,264.04 129.22,265.64 129.41,265.32 129.59,262.85 129.77,258.16 129.95,251.66 130.13,244.21 130.31,236.45 130.49,227.99 130.67,219.34 130.85,211.75 131.03,206.42 131.22,202.99 131.40,201.82 131.58,205.77 131.76,213.10 131.94,222.66 132.12,233.55 132.30,245.14 132.48,257.00 132.66,268.45 132.84,279.10 133.03,289.65 133.21,300.34 133.39,309.92 133.57,316.68 133.75,318.51 133.93,314.11 134.11,304.46 134.29,293.37 134.47,281.82 134.65,269.19 134.84,256.39 135.02,244.68 135.20,233.63 135.38,222.68 135.56,212.95 135.74,205.53 135.92,200.64 136.10,198.25 136.28,198.24 136.46,201.46 136.64,208.32 136.83,216.94 137.01,225.51 137.19,233.11 137.37,240.70 137.55,249.32 137.73,256.81 137.91,262.04 138.09,264.93 138.27,265.75 138.45,264.61 138.64,261.22 138.82,255.74 139.00,248.72 139.18,241.16 139.36,233.16 139.54,224.48 139.72,216.11 139.90,209.30 140.08,204.92 140.26,201.88 140.45,202.88 140.63,208.37 140.81,216.71 140.99,226.90 141.17,238.13 141.35,249.88 141.53,261.67 141.71,272.78 141.89,283.28 142.07,293.97 142.26,304.39 142.44,313.08 142.62,318.12 142.80,317.51 142.98,310.67 143.16,300.03 143.34,288.85 143.52,276.89 143.70,264.00 143.88,251.56 144.07,240.24 144.25,229.20 144.43,218.56 144.61,209.68 144.79,203.26 144.97,199.40 145.15,197.94 145.33,199.07 145.51,203.85 145.69,211.68 145.88,220.43 146.06,228.70 146.24,235.98 146.42,244.13 146.60,252.56 146.78,259.18 146.96,263.46 147.14,265.48 147.32,265.54 147.50,263.53 147.69,259.26 147.87,253.07 148.05,245.72 148.23,238.05 148.41,229.74 148.59,221.02 148.77,213.13 148.95,207.28 149.13,203.61 149.31,201.60 149.50,204.65 149.68,211.42 149.86,220.62 150.04,231.30 150.22,242.79 150.40,254.64 150.58,266.22 150.76,277.01 150.94,287.51 151.12,298.25 151.31,308.16 151.49,315.66 151.67,318.63 151.85,315.50 152.03,306.62 152.21,295.60 152.39,284.21 152.57,271.78 152.75,258.89 152.94,246.93 153.12,235.84 153.30,224.82 153.48,214.73 153.66,206.81 153.84,201.41 154.02,198.54 154.20,198.03 154.38,200.50 154.56,206.73 154.75,215.18 154.93,223.85 155.11,231.68 155.29,239.05 155.47,247.61 155.65,255.48 155.83,261.18 156.01,264.52 156.19,265.73 156.37,265.01 156.56,262.08 156.74,256.99 156.92,250.20 157.10,242.69 157.28,234.83 157.46,226.24 157.64,217.70 157.82,210.48 158.00,205.64 158.18,202.38 158.37,202.25 158.55,207.01 158.73,214.86 158.91,224.76 159.09,235.82 159.27,247.50 159.45,259.35 159.63,270.63 159.81,281.19 159.99,291.81 160.18,302.39 160.36,311.56 160.54,317.51 160.72,318.14 160.90,312.49 161.08,302.25 161.26,291.12 161.44,279.38 161.62,266.59 161.80,253.95 161.99,242.45 162.17,231.41 162.35,220.59 162.53,211.27 162.71,204.35 162.89,199.97 163.07,198.05 163.25,198.59 163.43,202.58 163.61,209.97 163.80,218.69 163.98,227.13 164.16,234.53 164.34,242.40 164.52,250.98 164.70,258.04 164.88,262.80 165.06,265.24 165.24,265.68 165.42,264.12 165.61,260.28 165.79,254.43 165.97,247.22 166.15,239.62 166.33,231.47 166.51,222.74 166.69,214.58 166.87,208.24 167.05,204.25 167.23,201.62 167.42,203.68 167.60,209.85 167.78,218.63 167.96,229.08 168.14,240.45 168.32,252.26 168.50,263.96 168.68,274.90 168.86,285.39 169.04,296.12 169.23,306.32 169.41,314.45 169.59,318.50 169.77,316.63 169.95,308.71 170.13,297.82 170.31,286.55 170.49,274.35 170.67,261.43 170.85,249.22 171.04,238.04 171.22,227.00 171.40,216.60 171.58,208.20 171.76,202.29 171.94,198.92 172.12,197.93 172.30,199.71 172.48,205.24 172.66,213.42 172.84,222.15 173.03,230.22 173.21,237.48 173.39,245.88 173.57,254.07 173.75,260.23 173.93,264.04 174.11,265.64 174.29,265.32 174.47,262.85 174.66,258.16 174.84,251.66 175.02,244.21 175.20,236.45 175.38,227.99 175.56,219.34 175.74,211.75 175.92,206.42 176.10,202.99 176.28,201.82 176.47,205.77 176.65,213.10 176.83,222.66 177.01,233.55 177.19,245.14 177.37,257.00 177.55,268.45 177.73,279.10 177.91,289.65 178.09,300.34 178.28,309.92 178.46,316.68 178.64,318.51 178.82,314.11 179.00,304.46 179.18,293.37 179.36,281.82 179.54,269.19 179.72,256.39 179.90,244.68 180.09,233.63 180.27,222.68 180.45,212.95 180.63,205.53 180.81,200.64 180.99,198.25 181.17,198.24 181.35,201.46 181.53,208.32 181.71,216.94 181.90,225.51 182.08,233.11 182.26,240.70 182.44,249.32 182.62,256.81 182.80,262.04 182.98,264.93 183.16,265.75 183.34,264.61 183.52,261.22 183.71,255.74 183.89,248.72 184.07,241.16 184.25,233.16 184.43,224.48 184.61,216.11 184.79,209.30 184.97,204.92 185.15,201.88 185.33,202.88 185.52,208.37 185.70,216.71 185.88,226.90 186.06,238.13 186.24,249.88 186.42,261.67 186.60,272.78 186.78,283.28 186.96,293.97 187.14,304.39 187.33,313.08 187.51,318.12 187.69,317.51 187.87,310.67 188.05,300.03 188.23,288.85 188.41,276.89 188.59,264.00 188.77,251.56 188.95,240.24 189.14,229.20 189.32,218.56 189.50,209.68 189.68,203.26 189.86,199.40 190.04,197.94 190.22,199.07 190.40,203.85 190.58,211.68 190.76,220.43 190.95,228.70 191.13,235.98 191.31,244.13 191.49,252.56 191.67,259.18 191.85,263.46 192.03,265.48 192.21,265.54 192.39,263.53 192.57,259.26 192.76,253.07 192.94,245.72 193.12,238.05 193.30,229.74 193.48,221.02 193.66,213.13 193.84,207.28 194.02,203.61 194.20,201.60 194.38,204.65 194.57,211.42 194.75,220.62 194.93,231.30 195.11,242.79 195.29,254.64 195.47,266.22 195.65,277.01 195.83,287.51 196.01,298.25 196.19,308.16 196.38,315.66 196.56,318.63 196.74,315.50 196.92,306.62 197.10,295.60 197.28,284.21 197.46,271.78 197.64,258.89 197.82,246.93 198.00,235.84 198.19,224.82 198.37,214.73 198.55,206.81 198.73,201.41 198.91,198.54 199.09,198.03 199.27,200.50 199.45,206.73 199.63,215.18 199.81,223.85 200.00,231.68 200.18,239.05 200.36,247.61 200.54,255.48 200.72,261.18 200.90,264.52 201.08,265.73 201.26,265.01 201.44,262.08 201.62,256.99 201.81,250.20 201.99,242.69 202.17,234.83 202.35,226.24 202.53,217.70 202.71,210.48 202.89,205.64 203.07,202.38 203.25,202.25 203.43,207.01 203.62,214.86 203.80,224.76 203.98,235.82 204.16,247.50 204.34,259.35 204.52,270.63 204.70,281.19 204.88,291.81 205.06,302.39 205.24,311.56 205.43,317.51 205.61,318.14 205.79,312.49 205.97,302.25 206.15,291.12 206.33,279.38 206.51,266.59 206.69,253.95 206.87,242.45 207.05,231.41 207.24,220.59 207.42,211.27 207.60,204.35 207.78,199.97 207.96,198.05 208.14,198.59 208.32,202.58 208.50,209.97 208.68,218.69 208.86,227.13 209.04,234.53 209.23,242.40 209.41,250.98 209.59,258.04 209.77,262.80 209.95,265.24 210.13,265.68 210.31,264.12 210.49,260.28 210.67,254.43 210.85,247.22 211.04,239.62 211.22,231.47 211.40,222.74 211.58,214.58 211.76,208.24 211.94,204.25 212.12,201.62 212.30,203.68 212.48,209.85 212.66,218.63 212.85,229.08 213.03,240.45 213.21,252.26 213.39,263.96 213.57,274.90 213.75,285.39 213.93,296.12 214.11,306.32 214.29,314.45 214.47,318.50 214.66,316.63 214.84,308.71 215.02,297.82 215.20,286.55 215.38,274.35 215.56,261.43 215.74,249.22 215.92,238.04 216.10,227.00 216.28,216.60 216.47,208.20 216.65,202.29 216.83,198.92 217.01,197.93 217.19,199.71 217.37,205.24 217.55,213.42 217.73,222.15 217.91,230.22 218.09,237.48 218.28,245.88 218.46,254.07 218.64,260.23 218.82,264.04 219.00,265.64" fill="none" stroke="#1f4d36" stroke-width="0.45" stroke-linejoin="round" />
<rect x="37.80" y="191.50" width="181.50" height="135.90" fill="none" stroke="#8a8a8a" stroke-width="1.25"/>
<line x1="37.80" y1="321.94" x2="40.30" y2="321.94" stroke="#444" stroke-width="0.9"/>
<text x="32.30" y="326.28" font-size="9.856000000000002" text-anchor="end" transform="translate(32.30 326.28) scale(0.8929 1) translate(-32.30 -326.28)" font-family="Liberation Sans" font-weight="bold" text-rendering="geometricPrecision" fill="#111">−80</text>
<line x1="37.80" y1="303.40" x2="40.30" y2="303.40" stroke="#444" stroke-width="0.9"/>
<text x="32.30" y="307.75" font-size="9.856000000000002" text-anchor="end" transform="translate(32.30 307.75) scale(0.8929 1) translate(-32.30 -307.75)" font-family="Liberation Sans" font-weight="bold" text-rendering="geometricPrecision" fill="#111">−60</text>
<line x1="37.80" y1="284.87" x2="40.30" y2="284.87" stroke="#444" stroke-width="0.9"/>
<text x="32.30" y="289.22" font-size="9.856000000000002" text-anchor="end" transform="translate(32.30 289.22) scale(0.8929 1) translate(-32.30 -289.22)" font-family="Liberation Sans" font-weight="bold" text-rendering="geometricPrecision" fill="#111">−40</text>
<line x1="37.80" y1="266.33" x2="40.30" y2="266.33" stroke="#444" stroke-width="0.9"/>
<text x="32.30" y="270.68" font-size="9.856000000000002" text-anchor="end" transform="translate(32.30 270.68) scale(0.8929 1) translate(-32.30 -270.68)" font-family="Liberation Sans" font-weight="bold" text-rendering="geometricPrecision" fill="#111">−20</text>
<line x1="37.80" y1="247.80" x2="40.30" y2="247.80" stroke="#444" stroke-width="0.9"/>
<text x="32.30" y="252.15" font-size="9.856000000000002" text-anchor="end" transform="translate(32.30 252.15) scale(0.8929 1) translate(-32.30 -252.15)" font-family="Liberation Sans" font-weight="bold" text-rendering="geometricPrecision" fill="#111">0</text>
<line x1="37.80" y1="229.27" x2="40.30" y2="229.27" stroke="#444" stroke-width="0.9"/>
<text x="32.30" y="233.61" font-size="9.856000000000002" text-anchor="end" transform="translate(32.30 233.61) scale(0.8929 1) translate(-32.30 -233.61)" font-family="Liberation Sans" font-weight="bold" text-rendering="geometricPrecision" fill="#111">20</text>
<line x1="37.80" y1="210.73" x2="40.30" y2="210.73" stroke="#444" stroke-width="0.9"/>
<text x="32.30" y="215.08" font-size="9.856000000000002" text-anchor="end" transform="translate(32.30 215.08) scale(0.8929 1) translate(-32.30 -215.08)" font-family="Liberation Sans" font-weight="bold" text-rendering="geometricPrecision" fill="#111">40</text>
<line x1="37.80" y1="192.20" x2="40.30" y2="192.20" stroke="#444" stroke-width="0.9"/>
<text x="32.30" y="196.55" font-size="9.856000000000002" text-anchor="end" transform="translate(32.30 196.55) scale(0.8929 1) translate(-32.30 -196.55)" font-family="Liberation Sans" font-weight="bold" text-rendering="geometricPrecision" fill="#111">60</text>
<line x1="38.00" y1="327.40" x2="38.00" y2="324.90" stroke="#444" stroke-width="0.9"/>
<text x="38.00" y="340.80" font-size="9.856000000000002" text-anchor="middle" transform="translate(38.00 340.80) scale(0.8929 1) translate(-38.00 -340.80)" font-family="Liberation Sans" font-weight="bold" text-rendering="geometricPrecision" fill="#111">0.00</text>
<line x1="74.20" y1="327.40" x2="74.20" y2="324.90" stroke="#444" stroke-width="0.9"/>
<text x="74.20" y="340.80" font-size="9.856000000000002" text-anchor="middle" transform="translate(74.20 340.80) scale(0.8929 1) translate(-74.20 -340.80)" font-family="Liberation Sans" font-weight="bold" text-rendering="geometricPrecision" fill="#111">0.02</text>
<line x1="110.40" y1="327.40" x2="110.40" y2="324.90" stroke="#444" stroke-width="0.9"/>
<text x="110.40" y="340.80" font-size="9.856000000000002" text-anchor="middle" transform="translate(110.40 340.80) scale(0.8929 1) translate(-110.40 -340.80)" font-family="Liberation Sans" font-weight="bold" text-rendering="geometricPrecision" fill="#111">0.04</text>
<line x1="146.60" y1="327.40" x2="146.60" y2="324.90" stroke="#444" stroke-width="0.9"/>
<text x="146.60" y="340.80" font-size="9.856000000000002" text-anchor="middle" transform="translate(146.60 340.80) scale(0.8929 1) translate(-146.60 -340.80)" font-family="Liberation Sans" font-weight="bold" text-rendering="geometricPrecision" fill="#111">0.06</text>
<line x1="182.80" y1="327.40" x2="182.80" y2="324.90" stroke="#444" stroke-width="0.9"/>
<text x="182.80" y="340.80" font-size="9.856000000000002" text-anchor="middle" transform="translate(182.80 340.80) scale(0.8929 1) translate(-182.80 -340.80)" font-family="Liberation Sans" font-weight="bold" text-rendering="geometricPrecision" fill="#111">0.08</text>
<line x1="219.00" y1="327.40" x2="219.00" y2="324.90" stroke="#444" stroke-width="0.9"/>
<text x="219.00" y="340.80" font-size="9.856000000000002" text-anchor="middle" transform="translate(219.00 340.80) scale(0.8929 1) translate(-219.00 -340.80)" font-family="Liberation Sans" font-weight="bold" text-rendering="geometricPrecision" fill="#111">0.10</text>
<text x="129.40" y="354.60" font-size="8.8" text-anchor="middle" font-family="Liberation Sans" font-weight="bold" text-rendering="geometricPrecision" fill="#111">Time [ms]</text>
<text x="7.40" y="259.00" font-size="8.8" text-anchor="middle" transform="rotate(-90 7.40 259.00)" font-family="Liberation Sans" font-weight="bold" text-rendering="geometricPrecision" fill="#111">Displacement [nm]</text>
<rect x="118.3" y="196.5" width="24.9" height="125.1" fill="none" stroke="#222" stroke-width="0.9" stroke-dasharray="2.6,2.2"/>
<path d="M261.00,232.50 C261.48,233.63 262.77,236.70 263.90,239.30 C265.03,241.90 266.48,245.00 267.80,248.10 C269.12,251.20 270.48,255.12 271.80,257.90 C273.12,260.68 274.40,263.07 275.70,264.80 C277.00,266.53 278.30,267.97 279.60,268.30 C280.90,268.63 282.18,268.03 283.50,266.80 C284.82,265.57 286.18,263.35 287.50,260.90 C288.82,258.45 290.10,255.20 291.40,252.10 C292.70,249.00 294.00,245.73 295.30,242.30 C296.60,238.87 297.90,234.78 299.20,231.50 C300.50,228.22 301.78,224.90 303.10,222.60 C304.42,220.30 306.30,218.63 307.10,217.70 C307.90,216.77 307.08,216.58 307.90,217.00 C308.72,217.42 310.42,217.18 312.00,220.20 C313.58,223.22 315.70,229.72 317.40,235.10 C319.10,240.48 320.62,246.70 322.20,252.50 C323.78,258.30 325.33,264.37 326.90,269.90 C328.47,275.43 330.02,280.43 331.60,285.70 C333.18,290.97 334.82,297.38 336.40,301.50 C337.98,305.62 339.78,309.35 341.10,310.40 C342.42,311.45 343.17,310.07 344.30,307.80 C345.43,305.53 346.50,301.53 347.90,296.80 C349.30,292.07 351.12,285.47 352.70,279.40 C354.28,273.33 355.82,266.47 357.40,260.40 C358.98,254.33 360.62,248.53 362.20,243.00 C363.78,237.47 365.33,231.53 366.90,227.20 C368.47,222.87 370.18,219.22 371.60,217.00 C373.02,214.78 374.07,214.05 375.40,213.90 C376.73,213.75 378.12,213.88 379.60,216.10 C381.08,218.32 382.73,223.25 384.30,227.20 C385.87,231.15 387.77,236.65 389.00,239.80 C390.23,242.95 390.58,243.25 391.70,246.10 C392.82,248.95 394.38,253.80 395.70,256.90 C397.02,260.00 398.13,262.85 399.60,264.70 C401.07,266.55 402.87,268.00 404.50,268.00 C406.13,268.00 407.77,266.72 409.40,264.70 C411.03,262.68 412.68,259.33 414.30,255.90 C415.92,252.47 417.57,248.02 419.10,244.10 C420.63,240.18 422.77,234.35 423.50,232.40" fill="none" stroke="#2f5e48" stroke-width="1.15"/>
<rect x="261.20" y="204.40" width="162.90" height="114.80" fill="none" stroke="#8a8a8a" stroke-width="1.25"/>
<line x1="261.20" y1="313.76" x2="263.70" y2="313.76" stroke="#444" stroke-width="0.9"/>
<text x="254.70" y="317.31" font-size="9.856000000000002" text-anchor="end" transform="translate(254.70 317.31) scale(0.8929 1) translate(-254.70 -317.31)" font-family="Liberation Sans" font-weight="bold" text-rendering="geometricPrecision" fill="#111">−80</text>
<line x1="261.20" y1="298.82" x2="263.70" y2="298.82" stroke="#444" stroke-width="0.9"/>
<text x="254.70" y="302.37" font-size="9.856000000000002" text-anchor="end" transform="translate(254.70 302.37) scale(0.8929 1) translate(-254.70 -302.37)" font-family="Liberation Sans" font-weight="bold" text-rendering="geometricPrecision" fill="#111">−60</text>
<line x1="261.20" y1="283.88" x2="263.70" y2="283.88" stroke="#444" stroke-width="0.9"/>
<text x="254.70" y="287.43" font-size="9.856000000000002" text-anchor="end" transform="translate(254.70 287.43) scale(0.8929 1) translate(-254.70 -287.43)" font-family="Liberation Sans" font-weight="bold" text-rendering="geometricPrecision" fill="#111">−40</text>
<line x1="261.20" y1="268.94" x2="263.70" y2="268.94" stroke="#444" stroke-width="0.9"/>
<text x="254.70" y="272.49" font-size="9.856000000000002" text-anchor="end" transform="translate(254.70 272.49) scale(0.8929 1) translate(-254.70 -272.49)" font-family="Liberation Sans" font-weight="bold" text-rendering="geometricPrecision" fill="#111">−20</text>
<line x1="261.20" y1="254.00" x2="263.70" y2="254.00" stroke="#444" stroke-width="0.9"/>
<text x="254.70" y="257.55" font-size="9.856000000000002" text-anchor="end" transform="translate(254.70 257.55) scale(0.8929 1) translate(-254.70 -257.55)" font-family="Liberation Sans" font-weight="bold" text-rendering="geometricPrecision" fill="#111">0</text>
<line x1="261.20" y1="239.06" x2="263.70" y2="239.06" stroke="#444" stroke-width="0.9"/>
<text x="254.70" y="242.61" font-size="9.856000000000002" text-anchor="end" transform="translate(254.70 242.61) scale(0.8929 1) translate(-254.70 -242.61)" font-family="Liberation Sans" font-weight="bold" text-rendering="geometricPrecision" fill="#111">20</text>
<line x1="261.20" y1="224.12" x2="263.70" y2="224.12" stroke="#444" stroke-width="0.9"/>
<text x="254.70" y="227.67" font-size="9.856000000000002" text-anchor="end" transform="translate(254.70 227.67) scale(0.8929 1) translate(-254.70 -227.67)" font-family="Liberation Sans" font-weight="bold" text-rendering="geometricPrecision" fill="#111">40</text>
<line x1="261.20" y1="209.18" x2="263.70" y2="209.18" stroke="#444" stroke-width="0.9"/>
<text x="254.70" y="212.73" font-size="9.856000000000002" text-anchor="end" transform="translate(254.70 212.73) scale(0.8929 1) translate(-254.70 -212.73)" font-family="Liberation Sans" font-weight="bold" text-rendering="geometricPrecision" fill="#111">60</text>
<line x1="293.40" y1="319.20" x2="293.40" y2="316.70" stroke="#444" stroke-width="0.9"/>
<text x="293.40" y="332.30" font-size="9.856000000000002" text-anchor="middle" transform="translate(293.40 332.30) scale(0.8929 1) translate(-293.40 -332.30)" font-family="Liberation Sans" font-weight="bold" text-rendering="geometricPrecision" fill="#111">0.046</text>
<line x1="344.05" y1="319.20" x2="344.05" y2="316.70" stroke="#444" stroke-width="0.9"/>
<text x="344.05" y="332.30" font-size="9.856000000000002" text-anchor="middle" transform="translate(344.05 332.30) scale(0.8929 1) translate(-344.05 -332.30)" font-family="Liberation Sans" font-weight="bold" text-rendering="geometricPrecision" fill="#111">0.048</text>
<line x1="394.70" y1="319.20" x2="394.70" y2="316.70" stroke="#444" stroke-width="0.9"/>
<text x="394.70" y="332.30" font-size="9.856000000000002" text-anchor="middle" transform="translate(394.70 332.30) scale(0.8929 1) translate(-394.70 -332.30)" font-family="Liberation Sans" font-weight="bold" text-rendering="geometricPrecision" fill="#111">0.050</text>
<text x="343.60" y="345.80" font-size="8.8" text-anchor="middle" font-family="Liberation Sans" font-weight="bold" text-rendering="geometricPrecision" fill="#111">Time [ms]</text>
<text x="232.20" y="261.25" font-size="8.8" text-anchor="middle" transform="rotate(-90 232.20 261.25)" font-family="Liberation Sans" font-weight="bold" text-rendering="geometricPrecision" fill="#111">Displacement [nm]</text>
<line x1="220.00" y1="191.60" x2="260.60" y2="204.40" stroke="#222" stroke-width="0.9" stroke-dasharray="2.6,2.0"/>
<line x1="220.00" y1="327.20" x2="260.60" y2="319.20" stroke="#222" stroke-width="0.9" stroke-dasharray="2.6,2.0"/>
<path d="M486.90,128.00 C487.03,123.27 487.65,118.08 488.90,113.80 C490.15,109.52 492.13,105.52 494.40,102.30 C496.67,99.08 499.50,96.77 502.50,94.50 C505.50,92.23 508.72,90.52 512.40,88.70 C516.08,86.88 520.53,85.75 524.60,83.60 C528.67,81.45 533.27,78.13 536.80,75.80 C540.33,73.47 543.32,71.22 545.80,69.60 C548.28,67.98 549.35,66.93 551.70,66.10 C554.05,65.27 557.37,64.60 559.90,64.60 C562.43,64.60 564.38,65.07 566.90,66.10 C569.42,67.13 572.28,69.25 575.00,70.80 C577.72,72.35 580.47,74.23 583.20,75.40 C585.93,76.57 588.87,77.48 591.40,77.80 C593.93,78.12 596.07,77.78 598.40,77.30 C600.73,76.82 603.07,75.98 605.40,74.90 C607.73,73.82 609.97,72.47 612.40,70.80 C614.83,69.13 617.18,66.48 620.00,64.90 C622.82,63.32 626.70,61.90 629.30,61.30 C631.90,60.70 633.50,60.67 635.60,61.30 C637.70,61.93 639.80,63.20 641.90,65.10 C644.00,67.00 646.43,70.05 648.20,72.70 C649.97,75.35 650.92,77.95 652.50,81.00 C654.08,84.05 655.98,86.95 657.70,91.00 C659.42,95.05 661.33,100.40 662.80,105.30 C664.27,110.20 665.33,115.35 666.50,120.40 C667.67,125.45 668.82,130.53 669.80,135.60 C670.78,140.67 671.78,146.23 672.40,150.80 C673.02,155.37 673.45,159.13 673.50,163.00 C673.55,166.87 673.17,170.13 672.70,174.00 C672.23,177.87 671.55,181.80 670.70,186.20 C669.85,190.60 668.78,196.02 667.60,200.40 C666.42,204.78 665.10,208.97 663.60,212.50 C662.10,216.03 660.28,219.58 658.60,221.60 C656.92,223.62 655.18,224.27 653.50,224.60 C651.82,224.93 650.68,224.78 648.50,223.60 C646.32,222.42 643.10,219.62 640.40,217.50 C637.70,215.38 635.00,212.45 632.30,210.90 C629.60,209.35 627.00,208.18 624.20,208.20 C621.40,208.22 618.37,209.62 615.50,211.00 C612.63,212.38 609.58,214.78 607.00,216.50 C604.42,218.22 602.75,221.30 600.00,221.30 C597.25,221.30 593.37,218.88 590.50,216.50 C587.63,214.12 585.03,210.25 582.80,207.00 C580.57,203.75 578.62,200.80 577.10,197.00 C575.58,193.20 574.42,188.72 573.70,184.20 C572.98,179.68 572.72,174.65 572.80,169.90 C572.88,165.15 573.57,160.52 574.20,155.70 C574.83,150.88 575.87,144.60 576.60,141.00 C577.33,137.40 577.50,137.07 578.60,134.10 C579.70,131.13 581.53,126.53 583.20,123.20 C584.87,119.87 586.48,116.98 588.60,114.10 C590.72,111.22 593.17,108.02 595.90,105.90 C598.63,103.78 601.97,102.62 605.00,101.40 C608.03,100.18 611.07,99.97 614.10,98.60 C617.13,97.23 620.47,94.80 623.20,93.20 C625.93,91.60 627.78,90.12 630.50,89.00 C633.22,87.88 636.83,86.78 639.50,86.50 C642.17,86.22 644.33,86.68 646.50,87.30 C648.67,87.92 650.22,89.10 652.50,90.20 C654.78,91.30 657.43,92.02 660.20,93.90 C662.97,95.78 666.57,98.77 669.10,101.50 C671.63,104.23 673.72,107.15 675.40,110.30 C677.08,113.45 678.37,117.02 679.20,120.40 C680.03,123.78 680.40,127.22 680.40,130.60 C680.40,133.98 680.03,137.55 679.20,140.70 C678.37,143.85 677.30,146.77 675.40,149.50 C673.50,152.23 670.27,154.75 667.80,157.10 C665.33,159.45 663.48,161.27 660.60,163.60 C657.72,165.93 653.87,168.73 650.50,171.10 C647.13,173.47 643.77,175.78 640.40,177.80 C637.03,179.82 633.67,181.37 630.30,183.20 C626.93,185.03 623.57,186.92 620.20,188.80 C616.83,190.68 613.47,192.55 610.10,194.50 C606.73,196.45 603.60,198.95 600.00,200.50 C596.40,202.05 591.85,203.43 588.50,203.80 C585.15,204.17 583.23,203.58 579.90,202.70 C576.57,201.82 571.63,199.37 568.50,198.50 C565.37,197.63 565.03,198.20 561.10,197.50 C557.17,196.80 550.32,195.72 544.90,194.30 C539.48,192.88 534.02,191.35 528.60,189.00 C523.18,186.65 517.12,183.45 512.40,180.20 C507.68,176.95 503.67,173.48 500.30,169.50 C496.93,165.52 494.23,160.85 492.20,156.30 C490.17,151.75 488.98,146.92 488.10,142.20 C487.22,137.48 486.77,132.73 486.90,128.00Z" fill="none" stroke="#8a88a8" stroke-width="8.2" stroke-opacity="0.6" stroke-linejoin="round"/>
<path d="M486.90,128.00 C487.03,123.27 487.65,118.08 488.90,113.80 C490.15,109.52 492.13,105.52 494.40,102.30 C496.67,99.08 499.50,96.77 502.50,94.50 C505.50,92.23 508.72,90.52 512.40,88.70 C516.08,86.88 520.53,85.75 524.60,83.60 C528.67,81.45 533.27,78.13 536.80,75.80 C540.33,73.47 543.32,71.22 545.80,69.60 C548.28,67.98 549.35,66.93 551.70,66.10 C554.05,65.27 557.37,64.60 559.90,64.60 C562.43,64.60 564.38,65.07 566.90,66.10 C569.42,67.13 572.28,69.25 575.00,70.80 C577.72,72.35 580.47,74.23 583.20,75.40 C585.93,76.57 588.87,77.48 591.40,77.80 C593.93,78.12 596.07,77.78 598.40,77.30 C600.73,76.82 603.07,75.98 605.40,74.90 C607.73,73.82 609.97,72.47 612.40,70.80 C614.83,69.13 617.18,66.48 620.00,64.90 C622.82,63.32 626.70,61.90 629.30,61.30 C631.90,60.70 633.50,60.67 635.60,61.30 C637.70,61.93 639.80,63.20 641.90,65.10 C644.00,67.00 646.43,70.05 648.20,72.70 C649.97,75.35 650.92,77.95 652.50,81.00 C654.08,84.05 655.98,86.95 657.70,91.00 C659.42,95.05 661.33,100.40 662.80,105.30 C664.27,110.20 665.33,115.35 666.50,120.40 C667.67,125.45 668.82,130.53 669.80,135.60 C670.78,140.67 671.78,146.23 672.40,150.80 C673.02,155.37 673.45,159.13 673.50,163.00 C673.55,166.87 673.17,170.13 672.70,174.00 C672.23,177.87 671.55,181.80 670.70,186.20 C669.85,190.60 668.78,196.02 667.60,200.40 C666.42,204.78 665.10,208.97 663.60,212.50 C662.10,216.03 660.28,219.58 658.60,221.60 C656.92,223.62 655.18,224.27 653.50,224.60 C651.82,224.93 650.68,224.78 648.50,223.60 C646.32,222.42 643.10,219.62 640.40,217.50 C637.70,215.38 635.00,212.45 632.30,210.90 C629.60,209.35 627.00,208.18 624.20,208.20 C621.40,208.22 618.37,209.62 615.50,211.00 C612.63,212.38 609.58,214.78 607.00,216.50 C604.42,218.22 602.75,221.30 600.00,221.30 C597.25,221.30 593.37,218.88 590.50,216.50 C587.63,214.12 585.03,210.25 582.80,207.00 C580.57,203.75 578.62,200.80 577.10,197.00 C575.58,193.20 574.42,188.72 573.70,184.20 C572.98,179.68 572.72,174.65 572.80,169.90 C572.88,165.15 573.57,160.52 574.20,155.70 C574.83,150.88 575.87,144.60 576.60,141.00 C577.33,137.40 577.50,137.07 578.60,134.10 C579.70,131.13 581.53,126.53 583.20,123.20 C584.87,119.87 586.48,116.98 588.60,114.10 C590.72,111.22 593.17,108.02 595.90,105.90 C598.63,103.78 601.97,102.62 605.00,101.40 C608.03,100.18 611.07,99.97 614.10,98.60 C617.13,97.23 620.47,94.80 623.20,93.20 C625.93,91.60 627.78,90.12 630.50,89.00 C633.22,87.88 636.83,86.78 639.50,86.50 C642.17,86.22 644.33,86.68 646.50,87.30 C648.67,87.92 650.22,89.10 652.50,90.20 C654.78,91.30 657.43,92.02 660.20,93.90 C662.97,95.78 666.57,98.77 669.10,101.50 C671.63,104.23 673.72,107.15 675.40,110.30 C677.08,113.45 678.37,117.02 679.20,120.40 C680.03,123.78 680.40,127.22 680.40,130.60 C680.40,133.98 680.03,137.55 679.20,140.70 C678.37,143.85 677.30,146.77 675.40,149.50 C673.50,152.23 670.27,154.75 667.80,157.10 C665.33,159.45 663.48,161.27 660.60,163.60 C657.72,165.93 653.87,168.73 650.50,171.10 C647.13,173.47 643.77,175.78 640.40,177.80 C637.03,179.82 633.67,181.37 630.30,183.20 C626.93,185.03 623.57,186.92 620.20,188.80 C616.83,190.68 613.47,192.55 610.10,194.50 C606.73,196.45 603.60,198.95 600.00,200.50 C596.40,202.05 591.85,203.43 588.50,203.80 C585.15,204.17 583.23,203.58 579.90,202.70 C576.57,201.82 571.63,199.37 568.50,198.50 C565.37,197.63 565.03,198.20 561.10,197.50 C557.17,196.80 550.32,195.72 544.90,194.30 C539.48,192.88 534.02,191.35 528.60,189.00 C523.18,186.65 517.12,183.45 512.40,180.20 C507.68,176.95 503.67,173.48 500.30,169.50 C496.93,165.52 494.23,160.85 492.20,156.30 C490.17,151.75 488.98,146.92 488.10,142.20 C487.22,137.48 486.77,132.73 486.90,128.00Z" fill="none" stroke="#1b1a3c" stroke-width="6.7" stroke-linejoin="round"/>
<rect x="481.30" y="51.50" width="202.90" height="179.90" fill="none" stroke="#555" stroke-width="1.0"/>
<line x1="481.30" y1="202.56" x2="484.30" y2="202.56" stroke="#333" stroke-width="0.9"/>
<text x="476.40" y="206.50" font-size="10.4" text-anchor="end" font-family="Liberation Sans" font-weight="bold" text-rendering="geometricPrecision" fill="#111">−100</text>
<line x1="481.30" y1="173.58" x2="484.30" y2="173.58" stroke="#333" stroke-width="0.9"/>
<text x="476.40" y="177.52" font-size="10.4" text-anchor="end" font-family="Liberation Sans" font-weight="bold" text-rendering="geometricPrecision" fill="#111">−50</text>
<line x1="481.30" y1="144.60" x2="484.30" y2="144.60" stroke="#333" stroke-width="0.9"/>
<text x="476.40" y="148.54" font-size="10.4" text-anchor="end" font-family="Liberation Sans" font-weight="bold" text-rendering="geometricPrecision" fill="#111">0</text>
<line x1="481.30" y1="115.62" x2="484.30" y2="115.62" stroke="#333" stroke-width="0.9"/>
<text x="476.40" y="119.56" font-size="10.4" text-anchor="end" font-family="Liberation Sans" font-weight="bold" text-rendering="geometricPrecision" fill="#111">50</text>
<line x1="481.30" y1="86.64" x2="484.30" y2="86.64" stroke="#333" stroke-width="0.9"/>
<text x="476.40" y="90.58" font-size="10.4" text-anchor="end" font-family="Liberation Sans" font-weight="bold" text-rendering="geometricPrecision" fill="#111">100</text>
<line x1="481.30" y1="57.66" x2="484.30" y2="57.66" stroke="#333" stroke-width="0.9"/>
<text x="476.40" y="61.60" font-size="10.4" text-anchor="end" font-family="Liberation Sans" font-weight="bold" text-rendering="geometricPrecision" fill="#111">150</text>
<line x1="483.02" y1="231.40" x2="483.02" y2="228.40" stroke="#333" stroke-width="0.9"/>
<text x="483.02" y="244.40" font-size="10.4" text-anchor="middle" font-family="Liberation Sans" font-weight="bold" text-rendering="geometricPrecision" fill="#111">−80</text>
<line x1="513.14" y1="231.40" x2="513.14" y2="228.40" stroke="#333" stroke-width="0.9"/>
<text x="513.14" y="244.40" font-size="10.4" text-anchor="middle" font-family="Liberation Sans" font-weight="bold" text-rendering="geometricPrecision" fill="#111">−60</text>
<line x1="543.26" y1="231.40" x2="543.26" y2="228.40" stroke="#333" stroke-width="0.9"/>
<text x="543.26" y="244.40" font-size="10.4" text-anchor="middle" font-family="Liberation Sans" font-weight="bold" text-rendering="geometricPrecision" fill="#111">−40</text>
<line x1="573.38" y1="231.40" x2="573.38" y2="228.40" stroke="#333" stroke-width="0.9"/>
<text x="573.38" y="244.40" font-size="10.4" text-anchor="middle" font-family="Liberation Sans" font-weight="bold" text-rendering="geometricPrecision" fill="#111">−20</text>
<line x1="603.50" y1="231.40" x2="603.50" y2="228.40" stroke="#333" stroke-width="0.9"/>
<text x="603.50" y="244.40" font-size="10.4" text-anchor="middle" font-family="Liberation Sans" font-weight="bold" text-rendering="geometricPrecision" fill="#111">0</text>
<line x1="633.62" y1="231.40" x2="633.62" y2="228.40" stroke="#333" stroke-width="0.9"/>
<text x="633.62" y="244.40" font-size="10.4" text-anchor="middle" font-family="Liberation Sans" font-weight="bold" text-rendering="geometricPrecision" fill="#111">20</text>
<line x1="663.74" y1="231.40" x2="663.74" y2="228.40" stroke="#333" stroke-width="0.9"/>
<text x="663.74" y="244.40" font-size="10.4" text-anchor="middle" font-family="Liberation Sans" font-weight="bold" text-rendering="geometricPrecision" fill="#111">40</text>
<text x="582.70" y="260.60" font-size="10.4" text-anchor="middle" font-family="Liberation Sans" font-weight="bold" text-rendering="geometricPrecision" fill="#111">Displacement [nm]</text>
<text x="449.40" y="141.00" font-size="10.4" text-anchor="middle" transform="rotate(-90 449.40 141.00)" font-family="Liberation Sans" font-weight="bold" text-rendering="geometricPrecision" fill="#111">Velocity [mm/s]</text>
<text x="-1.20" y="8.30" font-size="15.5" text-anchor="start" font-family="Liberation Sans" font-weight="bold" text-rendering="geometricPrecision" fill="#000">a</text>
<text x="440.30" y="46.60" font-size="14.5" text-anchor="start" font-family="Liberation Sans" font-weight="bold" text-rendering="geometricPrecision" fill="#000">b</text>
</svg>
</body></html>
